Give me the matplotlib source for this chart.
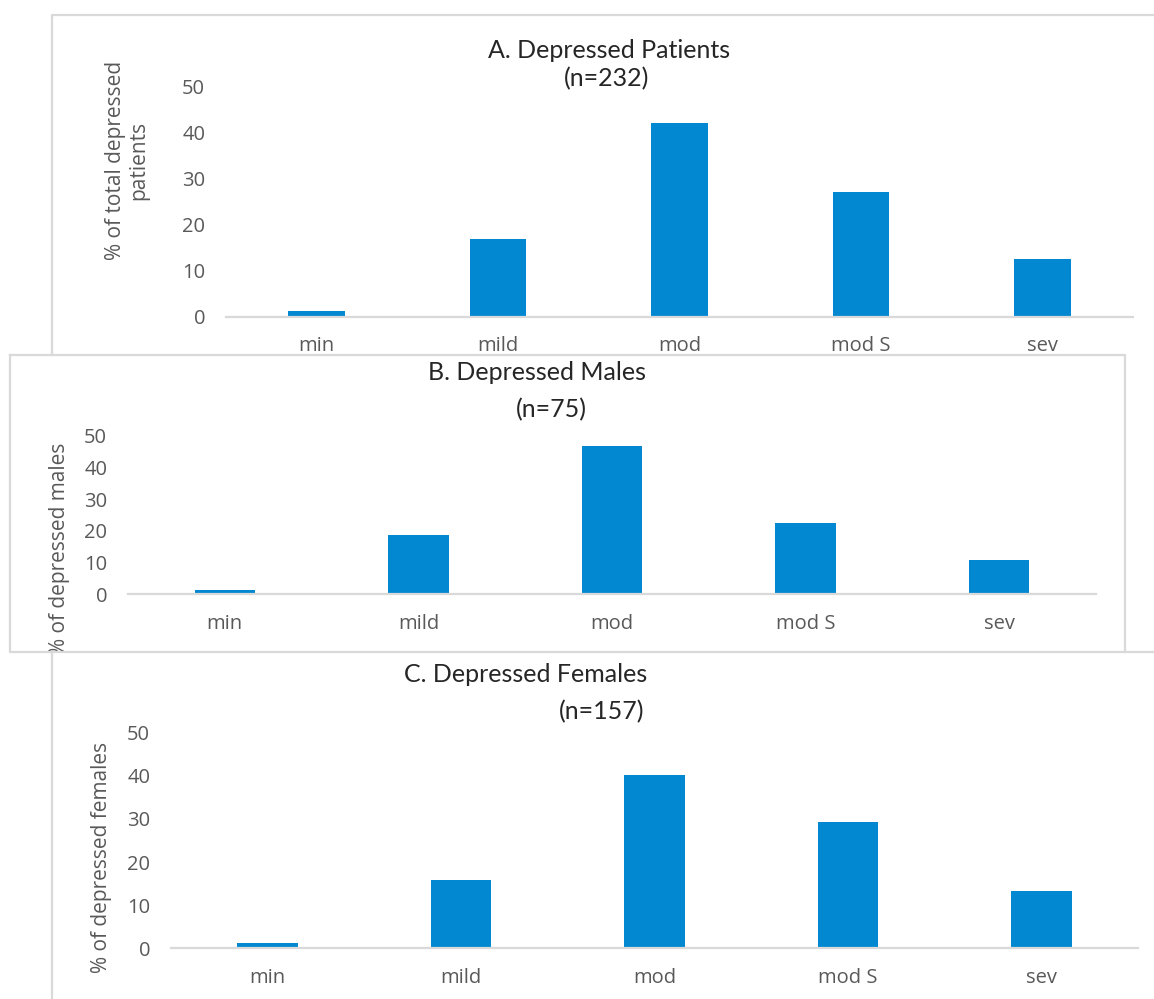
import numpy as np
import matplotlib.pyplot as plt
from matplotlib.lines import Line2D
from matplotlib.patches import Rectangle
from matplotlib.transforms import Bbox

# severity categories and % values
categories = ["min", "mild", "mod", "mod S", "sev"]
patients = [1.2, 16.8, 42.2, 27.1, 12.5]
males = [1.3, 18.7, 46.8, 22.6, 10.7]
females = [1.2, 15.8, 40.1, 29.2, 13.3]
yticks = [0, 10, 20, 30, 40, 50]

W, H = 1154, 999
BLUE = "#0288d1"
GRID = "#d9d9d9"
TXT = "#595959"
TITLE = "#262626"

fig = plt.figure(figsize=(W / 100, H / 100), dpi=100)


def px_rect(x0, y0, x1, y1):
    # pixel box (top-left origin) -> figure fraction [l, b, w, h]
    return [x0 / W, 1 - y1 / H, (x1 - x0) / W, (y1 - y0) / H]


def border(xs, ys):
    # light grey chart-area border, pixel coords from top-left
    ln = Line2D([x / W for x in xs], [1 - y / H for y in ys], transform=fig.transFigure,
                color=GRID, lw=1.6, zorder=0.5)
    fig.add_artist(ln)


def panel(box, values):
    ax = fig.add_axes(px_rect(*box))
    ax.patch.set_visible(False)
    x = np.arange(len(categories))
    ax.bar(x, values, width=0.313, color=BLUE, zorder=2)
    ax.set_xlim(-0.5, len(categories) - 0.5)
    ax.set_ylim(0, 50)
    ax.set_yticks(yticks)
    ax.set_xticks(x)
    ax.set_xticklabels(categories)
    for s in ["top", "left", "right"]:
        ax.spines[s].set_visible(False)
    ax.spines["bottom"].set_color(GRID)
    ax.spines["bottom"].set_linewidth(1.6)
    ax.tick_params(axis="y", length=0, pad=15, labelsize=14.5, labelcolor=TXT)
    ax.tick_params(axis="x", length=0, pad=14, labelsize=14.5, labelcolor=TXT)
    for lab in ax.get_xticklabels() + ax.get_yticklabels():
        lab.set_fontfamily("Open Sans")
    return ax


def ftext(x, y, s, **kw):
    return fig.text(x / W, 1 - y / H, s, ha="center", va="center", **kw)


axA = panel((226, 86.7, 1133, 316.7), patients)
axB = panel((128, 435.7, 1096, 594.3), males)
axC = panel((171, 732.7, 1138, 948.3), females)

tkw = dict(fontfamily="Lato", fontsize=18, color=TITLE, zorder=5)
ftext(609, 50, "A. Depressed Patients", **tkw)
ftext(607, 79, "(n=232)", **tkw)
ftext(537, 373, "B. Depressed Males", **tkw)
ftext(551, 410, "(n=75)", **tkw)
ftext(526, 674, "C. Depressed Females", **tkw)
ftext(602, 712, "(n=157)", **tkw)

lkw = dict(fontfamily="Open Sans", fontsize=15, color=TXT, rotation=90, zorder=5)
ftext(127, 160, "% of total depressed\npatients", linespacing=1.1, **lkw)
lb = ftext(60, 549, "% of depressed males", **lkw)
lb.set_clip_box(Bbox.from_extents(10, H - 651, 1125, H - 355))
lb.set_clip_on(True)
ftext(102, 857, "% of depressed females", **lkw)

# keep the strip right of panel B's box clean
l, b, w, h = px_rect(1134, 17, 1154, 353)
fig.add_artist(Rectangle((l, b), w, h, transform=fig.transFigure,
                         facecolor="white", edgecolor="none", zorder=8))

# panel frames, drawn last
border([1154, 52, 52], [15, 15, 355])          # A: top + left
border([10, 1125, 1125, 10, 10], [355, 355, 652, 652, 355])   # B: full box
border([1125, 1154], [652, 652])               # C: top beyond B
border([52, 52], [652, 999])                   # C: left
for ln in fig.artists[-4:]:
    ln.set_zorder(9)

fig.savefig("out.png", dpi=100, facecolor="white")
